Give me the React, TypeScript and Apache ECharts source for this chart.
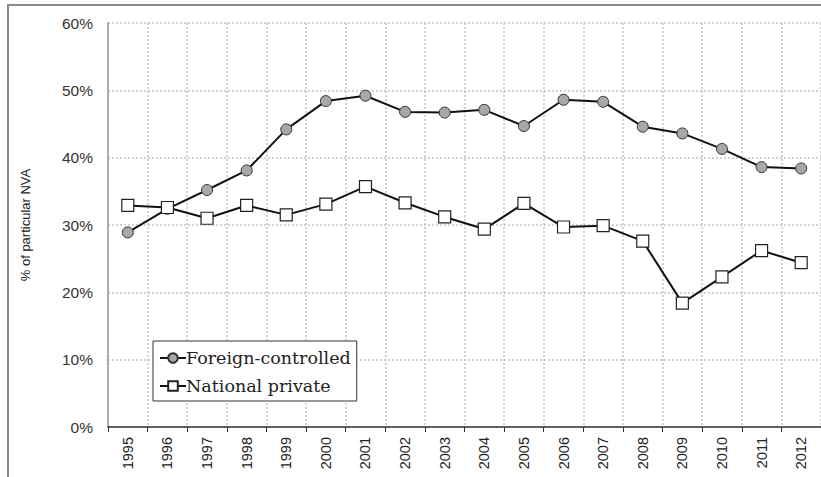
import React, { useEffect, useRef } from "react";
import * as echarts from "echarts";

const years = ["1995","1996","1997","1998","1999","2000","2001","2002","2003","2004","2005","2006","2007","2008","2009","2010","2011","2012"];
const foreignControlled = [28.9, 32.4, 35.2, 38.1, 44.2, 48.4, 49.2, 46.8, 46.7, 47.1, 44.7, 48.6, 48.3, 44.6, 43.6, 41.3, 38.6, 38.4];
const nationalPrivate = [32.9, 32.6, 31.0, 32.9, 31.5, 33.1, 35.7, 33.3, 31.2, 29.4, 33.2, 29.7, 29.9, 27.6, 18.4, 22.3, 26.2, 24.4];
const yTicks = [0, 10, 20, 30, 40, 50, 60];

export default function App() {
  const ref = useRef<HTMLDivElement>(null);
  useEffect(() => {
    const chart = echarts.init(ref.current!, null, { renderer: "svg" });
    chart.setOption({
      animation: false,
      backgroundColor: "#ffffff",
      graphic: [
        {
          type: "rect",
          shape: { x: 8, y: 5, width: 830, height: 500 },
          style: { fill: "none", stroke: "#8a8a8a", lineWidth: 2 },
          silent: true,
          z: -1,
        },
      ],
      grid: { left: 108, right: 0, top: 23, bottom: 50, containLabel: false },
      legend: {
        orient: "vertical",
        left: 153,
        top: 341,
        backgroundColor: "#ffffff",
        borderColor: "#333",
        borderWidth: 1,
        borderRadius: 0,
        padding: [8, 6, 6, 6],
        itemGap: 10,
        itemWidth: 26,
        itemHeight: 12,
        textStyle: { fontFamily: "DejaVu Serif", fontSize: 17.5, color: "#222", padding: [0, 0, 0, -5] },
        data: ["Foreign-controlled", "National private"],
      },
      xAxis: {
        type: "category",
        data: years,
        boundaryGap: true,
        axisLine: { show: true, lineStyle: { color: "#333", width: 1.5 } },
        axisTick: { show: true, length: 5, interval: 0, lineStyle: { color: "#333" } },
        axisLabel: { rotate: 90, interval: 0, fontFamily: "Liberation Sans", fontSize: 14.5, color: "#222", margin: 10 },
        splitLine: { show: true, interval: 0, lineStyle: { color: "#c4c4c4", type: [2, 2], width: 1.5 } },
      },
      yAxis: {
        type: "value",
        min: yTicks[0],
        max: yTicks[yTicks.length - 1],
        interval: 10,
        name: "% of particular NVA",
        nameLocation: "middle",
        nameGap: 76,
        nameTextStyle: { fontFamily: "Liberation Sans", fontSize: 13, color: "#222" },
        axisLine: { show: true, lineStyle: { color: "#999", width: 1.5 } },
        axisTick: { show: false },
        axisLabel: { formatter: "{value}%", fontFamily: "Liberation Sans", fontSize: 15.5, color: "#333", margin: 15 },
        splitLine: { show: true, lineStyle: { color: "#c4c4c4", type: [2, 2], width: 1.5 } },
      },
      series: [
        {
          name: "Foreign-controlled",
          type: "line",
          data: foreignControlled,
          symbol: "circle",
          symbolSize: 11,
          lineStyle: { color: "#111", width: 2 },
          itemStyle: { color: "#a8a8a8", borderColor: "#333", borderWidth: 1 },
          z: 3,
        },
        {
          name: "National private",
          type: "line",
          data: nationalPrivate,
          symbol: "rect",
          symbolSize: 12,
          lineStyle: { color: "#111", width: 2 },
          itemStyle: { color: "#ffffff", borderColor: "#222", borderWidth: 1.2 },
          z: 4,
        },
      ],
    });
    return () => chart.dispose();
  }, []);
  return <div ref={ref} style={{ position: "fixed", left: 0, top: 0, width: 821, height: 477 }} />;
}
